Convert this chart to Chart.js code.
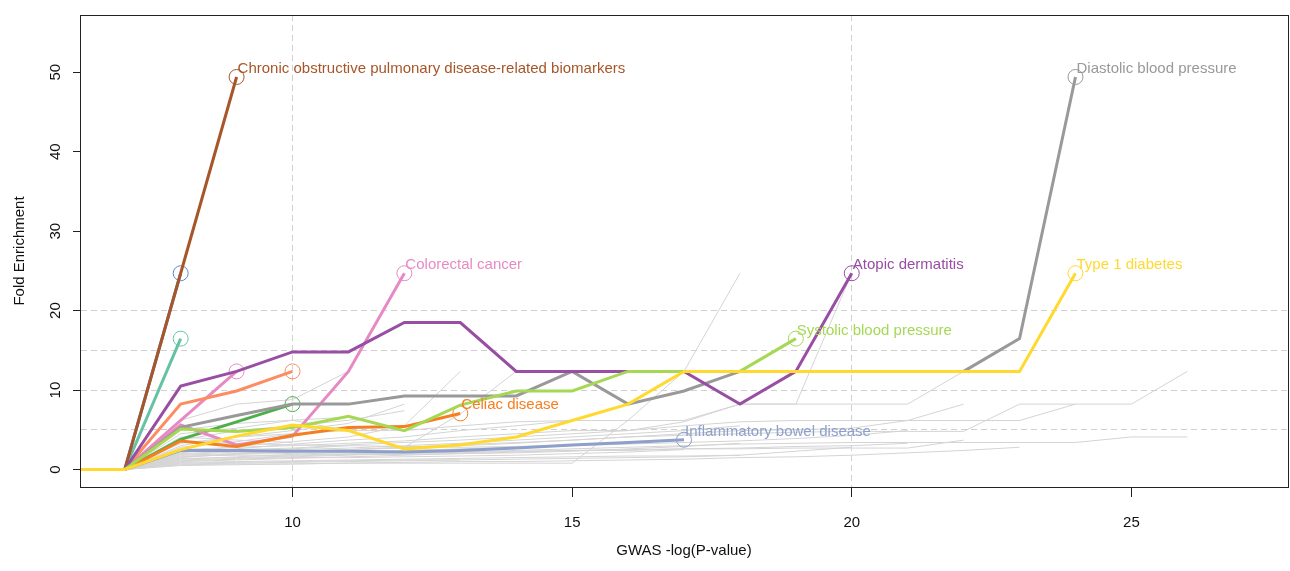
<!DOCTYPE html>
<html>
<head>
<meta charset="utf-8">
<script src="https://cdn.jsdelivr.net/npm/chart.js@4.4.1/dist/chart.umd.min.js"></script>
<style>
  html, body { margin: 0; padding: 0; background: #ffffff; }
  #wrap { width: 1290px; height: 571px; }
</style>
</head>
<body>
<div id="wrap"><canvas id="chart" width="1290" height="571"></canvas></div>
<script>
// GWAS -log(P) thresholds; every series below starts at the first threshold
const gwasThresholds = [6, 7, 8, 9, 10, 11, 12, 13, 14, 15, 16, 17, 18, 19, 20, 21, 22, 23, 24, 25, 26];

// Highlighted traits: fold enrichment at each threshold
const copdBiomarkers   = [0, 0, 24.7, 49.4];
const atopicDermatitis = [0, 0, 10.5, 12.35, 14.8, 14.8, 18.5, 18.5, 12.35, 12.35, 12.35, 12.35, 8.23, 12.35, 24.7];
const colorectalCancer = [0, 0, 5.6, 3.1, 4.2, 12.35, 24.7];
const systolicBP       = [0, 0, 5.1, 4.8, 5.3, 6.7, 4.9, 8.1, 9.88, 9.88, 12.35, 12.35, 12.35, 16.47];
const celiacDisease    = [0, 0, 3.6, 2.9, 4.3, 5.3, 5.4, 7.06];
const ibdTrait         = [0, 0, 2.4, 2.4, 2.3, 2.3, 2.2, 2.4, 2.7, 3.1, 3.4, 3.75];
const diastolicBP      = [0, 0, 5.3, 6.8, 8.23, 8.23, 9.26, 9.26, 9.26, 12.35, 8.23, 9.88, 12.35, 12.35, 12.35, 12.35, 12.35, 16.47, 49.4];
const type1Diabetes    = [0, 0, 2.5, 4.2, 5.6, 4.9, 2.6, 3.1, 4.1, 6.17, 8.23, 12.35, 12.35, 12.35, 12.35, 12.35, 12.35, 12.35, 24.7];
// Other coloured traits without a text label
const blueTrait   = [0, 0, 24.7];
const tealTrait   = [0, 0, 16.47];
const pinkTrait   = [0, 0, 6.2, 12.35];
const salmonTrait = [0, 0, 8.23, 9.88, 12.35];
const greenTrait  = [0, 0, 3.8, 6.0, 8.23];

// Remaining traits, drawn in light grey
const backgroundTraits = [
  [0, 0, 6.2, 8.23, 8.8, 12.35],
  [0, 0, 3.0, 4.1, 4.9, 5.8, 8.23],
  [0, 0, 2.1, 2.9, 3.5, 4.1, 5.5, 12.35],
  [0, 0, 1.5, 2.0, 2.3, 2.5, 2.8, 7.0, 12.35],
  [0, 0, 0.6, 0.7, 0.7, 0.8, 0.8, 0.8, 0.8, 0.8, 6.2, 12.35, 24.7],
  [0, 0, 2.5, 2.8, 3.0, 3.3, 3.6, 4.1, 4.5, 4.9, 4.9, 6.0, 8.23, 8.23, 24.7],
  [0, 0, 3.3, 4.1, 4.5, 4.9, 4.9, 5.5, 6.0, 6.17, 6.17, 6.17, 8.23, 8.23, 8.23, 8.23, 12.35],
  [0, 0, 1.8, 2.0, 2.3, 2.5, 2.7, 3.0, 3.3, 3.7, 4.1, 4.5, 4.9, 5.0, 5.2, 6.17, 8.23],
  [0, 0, 2.2, 2.5, 2.7, 3.1, 3.4, 3.7, 4.1, 4.5, 4.9, 5.5, 6.0, 6.17, 6.17, 6.17, 6.17, 6.17, 8.23, 8.23, 12.35],
  [0, 0, 1.6, 1.9, 2.2, 2.5, 2.8, 3.1, 3.4, 3.7, 4.1, 4.3, 4.5, 4.7, 4.8, 4.8, 4.8, 8.23, 8.23],
  [0, 0, 1.2, 1.4, 1.6, 1.8, 2.0, 2.2, 2.4, 2.6, 2.8, 3.0, 3.2, 3.3, 3.4, 3.4, 3.4, 3.4, 3.4, 4.1, 4.1],
  [0, 0, 1.0, 1.2, 1.4, 1.6, 1.8, 2.0, 2.2, 2.4, 2.5, 2.6, 2.6, 2.7, 2.7, 2.7, 3.7],
  [0, 0, 0.9, 1.0, 1.1, 1.2, 1.3, 1.4, 1.5, 1.6, 1.7, 1.7, 1.8, 2.3, 2.8],
  [0, 0, 0.8, 0.9, 1.0, 1.1, 1.2, 1.2, 1.3, 1.4, 1.5, 1.6, 1.8],
  [0, 0, 5.0, 5.8, 6.2, 6.6],
  [0, 0, 2.8, 3.5, 4.5],
  [0, 0, 1.9, 2.2, 2.6, 3.0],
  [0, 0, 1.4, 1.5, 1.7, 1.9, 2.1],
  [0, 0, 0.7, 0.8, 0.9, 1.0, 1.1, 1.2],
  [0, 0, 3.7, 4.9, 5.5, 6.2, 7.4],
  [0, 0, 2.3, 2.6, 3.2, 3.7, 4.1, 4.9, 5.5, 6.17],
  [0, 0, 1.1, 1.3, 1.5, 1.5, 1.6, 1.7, 1.8, 2.0, 2.2, 2.5],
  [0, 0, 0.5, 0.6, 0.7, 0.8, 0.9, 1.0, 1.0, 1.1, 1.2, 1.3, 1.5, 1.6, 1.8, 2.1, 2.4, 2.8],
  [0, 0, 4.5, 5.2, 6.2, 4.9],
  [0, 0, 2.0, 2.3, 2.5, 2.7, 3.0, 3.3, 3.7, 4.1, 4.5, 4.9, 5.5],
  [0, 0, 1.3, 1.6, 1.9, 2.2, 2.4, 2.6, 2.8, 3.0, 3.2, 3.4, 3.6, 3.9, 4.3, 4.9],
  [0, 0, 3.5, 3.3, 3.1, 3.0, 2.9, 2.8, 2.9, 3.1],
  [0, 0, 2.6, 2.2, 2.0, 1.9, 1.9, 2.0, 2.1, 2.3, 2.6, 2.9, 3.3],
  [0, 0, 4.1, 3.7, 3.4],
  [0, 0, 1.7, 1.8, 1.8, 2.0, 2.1, 2.1, 2.3, 2.4, 2.4, 2.6, 2.7, 2.9, 3.0, 3.3]
];

const xTickValues = [10, 15, 20, 25];
const yTickValues = [0, 10, 20, 30, 40, 50];
const yGuideValues = [5, 10, 15, 20];
const xGuideValues = [10, 20];

const FONT = "'Liberation Sans', Arial, Helvetica, sans-serif";
const TEXT_SIZE = 15;

function toPoints(values) {
  return values.map((v, i) => ({ x: gwasThresholds[i], y: v }));
}

function traitLine(values, color, label) {
  const last = values.length - 1;
  return {
    data: toPoints(values),
    traitLabel: label,
    borderColor: color,
    borderWidth: 3,
    tension: 0,
    pointRadius: ctx => (ctx.dataIndex === last ? 7.5 : 0),
    pointHoverRadius: 0,
    pointStyle: 'circle',
    pointBorderColor: color,
    pointBorderWidth: 1,
    pointBackgroundColor: 'rgba(0,0,0,0)'
  };
}

function greyLine(values) {
  return {
    data: toPoints(values),
    borderColor: '#d4d4d4',
    borderWidth: 1,
    tension: 0,
    pointRadius: 0,
    pointHoverRadius: 0
  };
}

// first dataset is drawn on top
const datasets = [
  traitLine(type1Diabetes, '#ffd92f', 'Type 1 diabetes'),
  traitLine(systolicBP, '#a6d854', 'Systolic blood pressure'),
  traitLine(atopicDermatitis, '#984ea3', 'Atopic dermatitis'),
  traitLine(diastolicBP, '#999999', 'Diastolic blood pressure'),
  traitLine(ibdTrait, '#8da0cb', 'Inflammatory bowel disease'),
  traitLine(celiacDisease, '#f57f20', 'Celiac disease'),
  traitLine(colorectalCancer, '#e78ac3', 'Colorectal cancer'),
  traitLine(salmonTrait, '#fc8d62', null),
  traitLine(greenTrait, '#4daf4a', null),
  traitLine(pinkTrait, '#e78ac3', null),
  traitLine(copdBiomarkers, '#a65628', 'Chronic obstructive pulmonary disease-related biomarkers'),
  traitLine(blueTrait, '#5b8bd0', null),
  traitLine(tealTrait, '#66c2a5', null),
  ...backgroundTraits.map(greyLine)
];

// text label next to the final point of a labelled trait
const endLabels = {
  id: 'endLabels',
  afterDatasetsDraw(chart) {
    const ctx = chart.ctx;
    ctx.save();
    ctx.font = TEXT_SIZE + 'px ' + FONT;
    ctx.textAlign = 'left';
    ctx.textBaseline = 'alphabetic';
    chart.data.datasets.forEach((ds, i) => {
      if (!ds.traitLabel) return;
      const pts = chart.getDatasetMeta(i).data;
      const p = pts[pts.length - 1];
      ctx.fillStyle = ds.borderColor;
      ctx.fillText(ds.traitLabel, p.x + 1, p.y - 4);
    });
    ctx.restore();
  }
};

// closed box round the plotting region
const plotFrame = {
  id: 'plotFrame',
  afterDraw(chart) {
    const a = chart.chartArea;
    const ctx = chart.ctx;
    ctx.save();
    ctx.strokeStyle = '#222';
    ctx.lineWidth = 1;
    ctx.strokeRect(Math.round(a.left) + 0.5, Math.round(a.top) + 0.5,
                   Math.round(a.right - a.left), Math.round(a.bottom - a.top));
    ctx.restore();
  }
};

function noEdgePadding(s) {
  s.paddingLeft = 0;
  s.paddingRight = 0;
  s.paddingTop = 0;
  s.paddingBottom = 0;
}

new Chart(document.getElementById('chart'), {
  type: 'line',
  data: { datasets },
  plugins: [endLabels, plotFrame],
  options: {
    responsive: false,
    devicePixelRatio: 1,
    animation: false,
    events: [],
    layout: { autoPadding: false, padding: { top: 15, right: 2, left: 0, bottom: 0 } },
    plugins: { legend: { display: false }, tooltip: { enabled: false } },
    scales: {
      x: {
        type: 'linear',
        min: 6.2,
        max: 27.8,
        afterBuildTicks: s => { s.ticks = xTickValues.map(v => ({ value: v })); },
        afterFit: s => { s.height = 84; noEdgePadding(s); },
        ticks: {
          color: '#111',
          font: { family: FONT, size: TEXT_SIZE },
          padding: 17,
          maxRotation: 0,
          callback: v => String(v)
        },
        grid: {
          color: c => (c.tick && xGuideValues.includes(c.tick.value) ? '#d0d0d0' : 'rgba(0,0,0,0)'),
          tickColor: '#222',
          tickLength: 10,
          tickBorderDash: [],
          lineWidth: 1
        },
        border: { display: true, color: '#222', dash: [6, 4] },
        title: {
          display: true,
          text: 'GWAS -log(P-value)',
          color: '#111',
          font: { family: FONT, size: TEXT_SIZE },
          padding: { top: 0, bottom: 11 }
        }
      },
      y: {
        type: 'linear',
        min: -2.2,
        max: 57.2,
        afterBuildTicks: s => {
          const vals = yTickValues.concat(yGuideValues.filter(v => !yTickValues.includes(v)));
          s.ticks = vals.sort((a, b) => a - b).map(v => ({ value: v }));
        },
        afterFit: s => { s.width = 80; noEdgePadding(s); },
        ticks: {
          color: '#111',
          font: { family: FONT, size: TEXT_SIZE },
          padding: 9,
          minRotation: 90,
          maxRotation: 90,
          crossAlign: 'center',
          callback: v => (yTickValues.includes(v) ? String(v) : '')
        },
        grid: {
          color: c => (c.tick && yGuideValues.includes(c.tick.value) ? '#d0d0d0' : 'rgba(0,0,0,0)'),
          tickColor: c => (c.tick && yTickValues.includes(c.tick.value) ? '#222' : 'rgba(0,0,0,0)'),
          tickLength: 7,
          tickBorderDash: [],
          lineWidth: 1
        },
        border: { display: true, color: '#222', dash: [6, 4] },
        title: {
          display: true,
          text: 'Fold Enrichment',
          color: '#111',
          font: { family: FONT, size: TEXT_SIZE },
          padding: { top: 11, bottom: 0 }
        }
      }
    }
  }
});
</script>
</body>
</html>
